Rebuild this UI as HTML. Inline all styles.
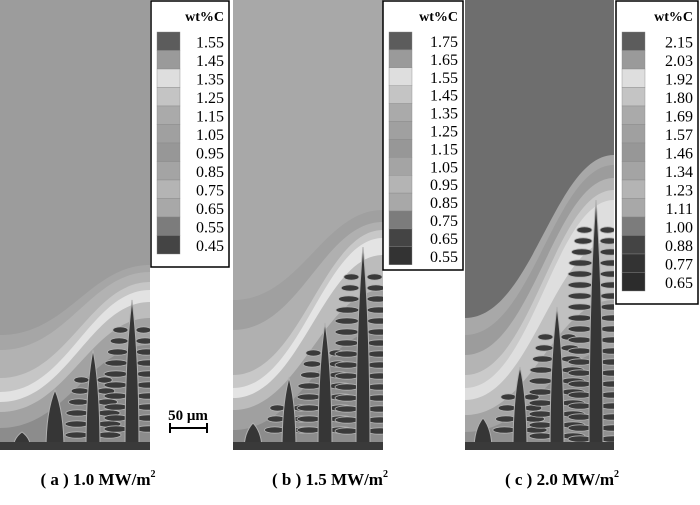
<!DOCTYPE html>
<html><head><meta charset="utf-8"><style>
html,body{margin:0;padding:0;background:#fff;}
svg{display:block;font-family:"Liberation Serif",serif;}
</style></head><body>
<svg id="fig" width="700" height="505" viewBox="0 0 700 505" xmlns="http://www.w3.org/2000/svg"></svg>
<script>
const legendA = ["1.55","1.45","1.35","1.25","1.15","1.05","0.95","0.85","0.75","0.65","0.55","0.45"];
const legendB = ["1.75","1.65","1.55","1.45","1.35","1.25","1.15","1.05","0.95","0.85","0.75","0.65","0.55"];
const legendC = ["2.15","2.03","1.92","1.80","1.69","1.57","1.46","1.34","1.23","1.11","1.00","0.88","0.77","0.65"];
const swatchGrays = ["#5c5c5c","#9a9a9a","#dedede","#c4c4c4","#aaaaaa","#a0a0a0","#979797","#a4a4a4","#b4b4b4","#a8a8a8","#7c7c7c","#444","#333","#2c2c2c"];
const captions = ["( a ) 1.0 MW/m","( b ) 1.5 MW/m","( c ) 2.0 MW/m"];
const dendA = [[22,432],[55,390],[93,350],[132,300]];
const dendB = [[253,423],[289,378],[325,323],[363,247]];
const dendC = [[483,418],[520,367],[557,307],[596,200]];

const NS="http://www.w3.org/2000/svg";
const svg=document.getElementById('fig');
function mk(tag,attrs,parent){const e=document.createElementNS(NS,tag);for(const k in attrs)e.setAttribute(k,attrs[k]);(parent||svg).appendChild(e);return e;}
const defs=mk('defs',{});

function panel(x0,x1,bg,bands,dends,name,id){
  const cp=mk('clipPath',{id:'clip'+id},defs);
  mk('rect',{x:x0,y:0,width:x1-x0,height:450},cp);
  const g=mk('g',{'clip-path':'url(#clip'+id+')'});
  
  
  mk('rect',{x:x0,y:0,width:x1-x0,height:450,fill:bg},g);
  const w=x1-x0;
  bands.forEach(b=>{
    const [yL,yR,c]=b;
    mk('path',{d:`M${x0},${yL} C${x0+w*0.45},${yL} ${x0+w*0.6},${yR} ${x1},${yR} L${x1},450 L${x0},450 Z`,fill:c},g);
  });
  dends.forEach((d,i)=>{
    const [dx,ty]=d;
    const len=450-ty;
    if(len>60){
      for(let y=ty+30;y<440;y+=11){
        const aw=Math.min(12,(y-ty)*0.12+4);
        mk('ellipse',{cx:dx-aw-4,cy:y,rx:aw,ry:3.2,fill:'#3a3a3a',stroke:'#b4b4b4','stroke-width':0.8},g);
        mk('ellipse',{cx:dx+aw+4,cy:y,rx:aw,ry:3.2,fill:'#3a3a3a',stroke:'#b4b4b4','stroke-width':0.8},g);
      }
    }
    const hw=len>60?7:9;
    mk('path',{d:`M${dx},${ty} C${dx+hw*0.7},${ty+len*0.25} ${dx+hw},${ty+len*0.6} ${dx+hw},450 L${dx-hw},450 C${dx-hw},${ty+len*0.6} ${dx-hw*0.7},${ty+len*0.25} ${dx},${ty} Z`,fill:'#363636',stroke:'#b0b0b0','stroke-width':1},g);
  });
  mk('rect',{x:x0,y:442,width:w,height:8,fill:'#3a3a3a'},g);
}
panel(0,150,'#9c9c9c',[[335,265,'#a6a6a6'],[350,272,'#b2b2b2'],[378,282,'#c6c6c6'],[392,290,'#e2e2e2'],[402,302,'#bdbdbd'],[412,318,'#a2a2a2'],[428,345,'#8c8c8c']],dendA,'panel-a','a');
panel(233,383,'#a8a8a8',[[300,210,'#a0a0a0'],[330,222,'#b0b0b0'],[375,230,'#c8c8c8'],[388,238,'#e4e4e4'],[398,255,'#bcbcbc'],[410,290,'#a0a0a0'],[430,330,'#8c8c8c']],dendB,'panel-b','b');
panel(465,614,'#6e6e6e',[[318,155,'#a8a8a8'],[335,165,'#9c9c9c'],[355,178,'#b4b4b4'],[375,190,'#cacaca'],[388,200,'#dedede'],[400,240,'#c0c0c0'],[415,300,'#a4a4a4'],[432,350,'#909090']],dendC,'panel-c','c');

function legend(x,y,w,h,vals,name,sh){
  const g=mk('g',{});
  
  
  mk('rect',{x:x,y:y,width:w,height:h,fill:'#fff',stroke:'#000','stroke-width':1.5},g);
  const t=mk('text',{x:x+w-5,y:y+20,'text-anchor':'end','font-size':14,'font-weight':'bold'},g);t.textContent='wt%C';
  const top=32, n=vals.length;
  for(let i=0;i<n;i++){
    const c=swatchGrays[Math.min(i,swatchGrays.length-1)];
    mk('rect',{x:x+6,y:top+i*sh,width:23,height:sh,fill:c,stroke:'#888','stroke-width':0.4},g);
  }
  vals.forEach((v,i)=>{
    const tt=mk('text',{x:x+w-5,y:top+i*sh+sh/2+6,'text-anchor':'end','font-size':16},g);
    tt.textContent=v;
  });
}
legend(151,1,78,266,legendA,'legend-a',18.5);
legend(383,1,80,269,legendB,'legend-b',17.9);
legend(616,1,82,303,legendC,'legend-c',18.5);

const sb=mk('g',{});


const st=mk('text',{x:188,y:420,'text-anchor':'middle','font-size':15,'font-weight':'bold'},sb);st.textContent='50 μm';
mk('path',{d:'M170,428 L207,428 M170,423 L170,433 M207,423 L207,433',stroke:'#000','stroke-width':2},sb);

const cx=[98,330,562];
captions.forEach((c,i)=>{
  const t=mk('text',{x:cx[i],y:485,'text-anchor':'middle','font-size':17,'font-weight':'bold'});
  
  
  t.textContent=c;
  const s=mk('tspan',{dy:-8,'font-size':10},t);s.textContent='2';
});
</script>
</body></html>
